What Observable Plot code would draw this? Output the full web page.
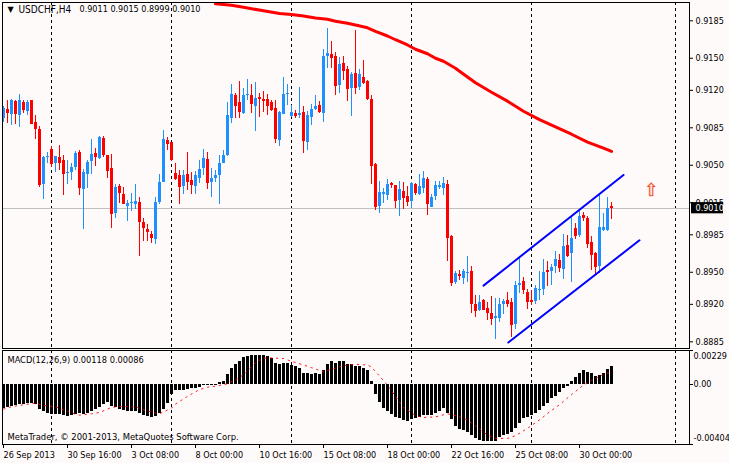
<!DOCTYPE html>
<html><head><meta charset="utf-8">
<style>html,body{margin:0;padding:0;background:#FFFAFA}#c{position:relative;width:729px;height:463px;overflow:hidden}svg{position:absolute;left:0;top:0}</style>
<script src="https://cdn.jsdelivr.net/npm/d3@7"></script>
<script src="https://cdn.jsdelivr.net/npm/@observablehq/plot@0.6"></script>
</head><body><div id="c"></div>
<script>
// candle values, in pips (1/10000)
const opens=[9093.5,9101.9,9097.2,9109.4,9096.3,9109.1,9100,9110.3,9090.4,9083.2,9031.9,9057.1,9064.5,9051.5,9057.1,9054.3,9042.1,9043.1,9047.7,9061.7,9027.2,9041.2,9053.3,9060.8,9056.1,9074.8,9058.9,9046.8,9004.8,9030,9022.5,9011.3,9014.4,9013.2,9015.1,8996.4,8989.8,8985.2,8980.5,9015.1,9033.7,9073,9071.1,9042.1,9040.3,9030,9041.2,9035.6,9030,9037.5,9046.8,9055.2,9033.7,9037.5,9040.3,9051.5,9058.9,9093.5,9115,9108.4,9098.2,9115,9115,9104.7,9113.1,9111.2,9111.2,9108.4,9102.8,9073,9097.2,9115.9,9095.4,9098.2,9096.3,9099.1,9071.1,9094.4,9101.9,9105.6,9098.2,9151.4,9153.3,9151.4,9124.3,9144.9,9139.3,9121.5,9135.5,9122.4,9131.8,9128.1,9111.2,9050.5,9011.3,9022.5,9021.6,9032.8,9030.9,9016.9,9025.3,9020.7,9016,9031.9,9022.5,9028.1,9036.5,9010.4,9020.7,9029.1,9028.1,9031.9,8983.3,8940.3,8947.8,8944.1,8948.8,8950.6,8919.8,8914.2,8923.5,8916.1,8911.4,8906.7,8906.7,8919.8,8923.5,8921.7,8901.1,8937.5,8941.3,8931,8923.5,8922.6,8932.9,8933.8,8951.6,8950.6,8955.3,8960.9,8952.5,8974.9,8967.4,8990.8,8984.2,9002.9,9000.1,8977.7,8967.4,8955.3,8988.9,8988.9,9011];
const highs=[9104.7,9110.3,9111.6,9110.3,9116.5,9110.9,9110.3,9110.3,9096.6,9086,9058.6,9062.1,9067.7,9058,9068.3,9058.9,9054.3,9051.2,9063,9064.2,9045.9,9054.9,9073.9,9065.2,9077.3,9076.7,9058.9,9059.9,9031.9,9031.9,9029.4,9016.9,9023.8,9031.9,9020,9000.1,8994.5,8988,9019.7,9041.2,9082.3,9076.1,9071.1,9051.2,9044.9,9044.9,9061.7,9043.1,9044.3,9054.3,9064.5,9061.7,9046.8,9044.9,9058.9,9063.6,9108.4,9125.3,9117.2,9128.1,9121.5,9129.9,9125.3,9127.1,9116.8,9118.7,9115.9,9110.3,9110.3,9100,9131.8,9125.9,9105.6,9101,9122.4,9104.7,9100,9106.6,9115,9109.4,9157.9,9177.6,9165.4,9155.1,9150.5,9151.4,9142.1,9136.5,9175.7,9139.3,9147.7,9129,9115,9051.2,9034.7,9028.1,9036.5,9033.7,9030.9,9034.7,9033.7,9030,9033.7,9032.8,9041.2,9044,9038.4,9022.5,9034.7,9034.7,9038.4,9036.2,8984.2,8950.6,8951.6,8952.5,8964.6,8955.3,8928.2,8928.2,8924.5,8921.7,8927.3,8925.4,8925.4,8924.5,8930.7,8925.4,8941.3,8963.7,8945,8933.8,8932.9,8937.5,8950.6,8961.8,8960,8957.2,8969.3,8966.5,8985.2,8984.2,9001,8995.4,9007.6,9005.7,9002,8983.3,8968.4,9022.5,9004.8,9019.7,9015];
const lows=[9089.8,9089.1,9087,9088.5,9085.4,9097.9,9096.3,9087.9,9074.2,9029.4,9017.9,9051.2,9048,9043.1,9044.9,9021.6,9031.9,9035.6,9044.9,9021.6,8989.8,9028.1,9041.8,9048.7,9055.2,9057.4,9037.5,8990.8,9000.1,9013.8,9013.2,8997.3,9006.6,9009.1,8964.6,8978.6,8978.6,8977.1,8975.8,9013.2,9033.7,9063.6,9053.7,9035.6,9013.2,9023.1,9026.3,9022.5,9023.1,9033.1,9040.3,9027.8,9019.7,9033.7,9013.2,9051.2,9058,9089.1,9093.5,9094.1,9097.2,9110.3,9098.2,9081.4,9094.4,9099.1,9096.3,9100,9070.2,9067.3,9097.2,9105.6,9094.7,9093.5,9094.1,9060.8,9063.6,9086.7,9101,9098.2,9089.8,9140.2,9140.2,9115,9116.8,9129,9109.4,9095.4,9115.9,9119.6,9125.3,9110.3,9031.9,9007.6,9004.8,9014.1,9016.9,9028.1,9009.4,9002,9008.5,9011.3,9009.4,9021.6,9021.6,9023.5,9002.9,9010.4,9016.9,9027.2,9021.6,8959.6,8936.6,8938.5,8942.2,8938.5,8940.3,8911.7,8908,8913.3,8914.2,8904.9,8900.2,8887.1,8903,8910.5,8917.3,8889,8896.5,8929.8,8929.1,8915.1,8918.9,8919.8,8923.5,8928.2,8936.6,8937.5,8948.8,8949.7,8943.1,8963.7,8940.3,8980.5,8982.4,8997.3,8972.1,8951.6,8947.8,8948.8,8988,8988,8999];
const closes=[9102.8,9098.2,9110.3,9097.2,9110.3,9101,9108.4,9088.5,9083.2,9030.9,9057.1,9058,9050.8,9058,9051.5,9041.5,9043.1,9047.7,9061.1,9028.1,9043.1,9052.4,9059.9,9057.1,9076.1,9058.9,9044,9003.8,9029.1,9023.5,9013.2,9014.1,9015.4,9016,8996.4,8990.8,8987,8981.4,9015.1,9033.7,9073.9,9069.2,9054.3,9036.5,9029.1,9040.3,9033.7,9030.9,9040.3,9045.9,9056.1,9032.8,9037.5,9040.3,9051.5,9058.9,9096.3,9115.9,9104.7,9099.1,9115,9115.9,9106.6,9112.2,9111.2,9109.4,9104.7,9101,9073.9,9099.1,9115.9,9116.8,9099.1,9095.4,9098.2,9072,9096.3,9101.9,9104.7,9099.1,9151.4,9154.2,9149.5,9123.4,9143.9,9137.4,9120.6,9134.6,9121.5,9134.6,9126.2,9111.2,9048.7,9010.4,9024.4,9024.4,9031.9,9030.9,9016,9027.2,9018.8,9015.1,9032.8,9023.5,9030,9037.5,9013.2,9019.7,9030.9,9030.9,9032.8,8981.7,8939.7,8948.8,8945.9,8950.6,8949.7,8920.1,8913.3,8921.7,8914.2,8911.4,8905.8,8908.6,8919.8,8922.6,8919.8,8900.2,8937.5,8939.4,8932.9,8921.7,8921.7,8934.7,8933.8,8949.7,8949.7,8954.4,8961.8,8953.4,8974,8964.6,8981.4,8983.3,9002,9000.1,8975.8,8965.6,8954.4,8991.7,8991.7,9009.5,9010];
// moving average: candle index and value in pips
const maIndex=[53,57,60,62,65,69,72,75,78,81,83,86,88,91,93,96,98,101,103,106,108,110,113,114,118,122,126,130,134,138,142,146,150,152];
const maValue=[9200.9,9199.5,9197.7,9196.3,9194.4,9191.9,9190.9,9189.4,9187.6,9186.5,9184.6,9182.7,9181,9178.5,9175.2,9170.8,9167.3,9162.4,9158.4,9154.2,9150,9147.2,9140.7,9137.9,9127.1,9118.3,9109.9,9100.5,9092.6,9085.8,9079,9071.6,9066,9063];
// channel trend lines: [index, pips] ends
const channelUpper=[[120,8937.5],[155,9040.9]];
const channelLower=[[126.2,8884.3],[159,8979.9]];
const separators=[12,42,72,102,132,168];
const priceTicks=[0.9185,0.9150,0.9120,0.9085,0.9050,0.9015,0.8985,0.8950,0.8920,0.8885];
const lastPrice=0.9010;
const arrowUp=[[162,9026.3]];
const titleText="USDCHF,H4";
const ohlcText="0.9011 0.9015 0.8999 0.9010";
// MACD, in 1e-5
const macdBars=[-159,-154,-150,-143,-136,-132,-125,-125,-132,-170,-182,-193,-200,-204,-204,-209,-216,-211,-204,-193,-204,-197,-182,-170,-152,-136,-118,-147,-154,-170,-177,-182,-182,-182,-193,-209,-216,-222,-216,-193,-170,-125,-68,-41,-41,-39,-34,-29,-27,-18,-9,-5,-9,-9,11,18,68,109,136,154,182,191,197,197,197,197,186,177,143,136,143,143,129,118,109,77,75,68,75,68,95,136,154,143,154,154,132,136,123,118,109,91,20,-68,-118,-159,-182,-200,-222,-231,-245,-250,-238,-231,-222,-211,-211,-211,-193,-182,-159,-193,-238,-284,-302,-313,-322,-345,-363,-374,-381,-381,-381,-381,-358,-345,-336,-322,-295,-261,-231,-222,-209,-193,-177,-147,-125,-95,-79,-57,-29,-11,18,45,73,91,84,73,57,64,73,102,118];
const signalIndex=[0,2,4,8,10,13,15,18,19,22,24,27,29,33,35,38,39,42,43,46,49,51,53,56,59,61,63,65,67,70,72,75,77,80,82,85,88,91,92,94,96,98,100,103,105,108,111,113,116,118,121,123,126,128,131,134,137,139,142,145,147,150,152];
const signalValue=[-165.6,-149.8,-140.7,-124.8,-140.7,-149.8,-170.2,-199.7,-206.5,-197.4,-188.3,-154.3,-147.5,-149.8,-170.2,-192.9,-197.4,-158.8,-131.6,-79.4,-34,-18.2,-11.3,4.5,45.4,90.8,147.5,177,179.3,174.7,156.6,131.6,113.5,86.2,102.1,127.1,136.1,131.6,118,56.7,-4.5,-79.4,-154.3,-208.7,-222.4,-217.8,-197.4,-208.7,-238.2,-279.1,-340.4,-363,-363,-344.9,-295,-238.2,-174.7,-136.1,-68.1,-4.5,27.2,68.1,86];
const macdTicks=[0.00229,0,-0.00404];
const macdTickText=["0.00229","0.00","-0.00404"];
const macdTickShift=[6,0,-6];
const macdText="MACD(12,26,9) 0.00118 0.00086";
const copyright="MetaTrader, \u00A9 2001-2013, MetaQuotes Software Corp.";
const timeIndex=[0,16,32,48,64,80,96,112,128,144];
const timeLabels=["26 Sep 2013","30 Sep 16:00","3 Oct 08:00","8 Oct 00:00","10 Oct 16:00","15 Oct 08:00","18 Oct 00:00","22 Oct 16:00","25 Oct 08:00","30 Oct 00:00"];

const FONT='"DejaVu Sans Condensed","DejaVu Sans",sans-serif', FS=9;
const BLUE="#1E90FF",RED="#FF0000";
const px=1e-4;
const candles=opens.map((o,i)=>({i,open:o*px,high:highs[i]*px,low:lows[i]*px,close:closes[i]*px}));
const up=candles.filter(d=>d.close>=d.open), down=candles.filter(d=>d.close<d.open);
const ma=maIndex.map((i,k)=>({i,v:maValue[k]*px}));
const chan=a=>a.map(([i,v])=>({i,v:v*px}));
const xOpt={type:"linear",domain:[0,171],range:[3,687]};
const clip=true, crisp={shapeRendering:"crispEdges"};
const wicks=(data,stroke)=>Plot.ruleX(data,{x:"i",y1:"low",y2:"high",stroke,clip,...crisp});
const bodies=(data,stroke)=>Plot.ruleX(data,{x:"i",y1:"open",y2:"close",stroke,strokeWidth:3,clip,...crisp});
const fontStyle={fontFamily:FONT,fontSize:FS+"px",background:"transparent",overflow:"visible"};

const main=Plot.plot({
  width:729,height:463,marginLeft:2,marginRight:40,marginTop:2,marginBottom:115,
  style:fontStyle,
  x:{...xOpt,axis:null},
  y:{type:"linear",domain:[0.8885,0.9185],range:[341.3,20.3],axis:null},
  marks:[
    Plot.ruleX(separators,{x:d=>d,stroke:"black",strokeDasharray:"3,3",clip,...crisp}),
    Plot.ruleY([lastPrice],{y:d=>d,stroke:"#C0C0C0",clip,...crisp}),
    wicks(up,BLUE),wicks(down,RED),bodies(up,BLUE),bodies(down,RED),
    Plot.line(ma,{x:"i",y:"v",stroke:RED,strokeWidth:3,clip}),
    Plot.line(chan(channelUpper),{x:"i",y:"v",stroke:"#0000FF",strokeWidth:2,clip}),
    Plot.line(chan(channelLower),{x:"i",y:"v",stroke:"#0000FF",strokeWidth:2,clip}),
    Plot.text(arrowUp,{x:d=>d[0],y:d=>d[1]*px,text:()=>"\u21E7",fill:"#F0483A",stroke:"#FF9A3A",strokeWidth:0.4,fontSize:18,fontFamily:"DejaVu Sans"}),
    Plot.frame({stroke:"black"}),
    Plot.axisY(priceTicks,{anchor:"right",tickSize:3,tickPadding:3,label:null,tickFormat:d=>d.toFixed(4),fill:"black",fontSize:FS,fontFamily:FONT}),
    Plot.rect([lastPrice],{x1:()=>172,x2:()=>180,y1:d=>d-0.00054,y2:d=>d+0.00051,fill:"black"}),
    Plot.text([lastPrice],{x:()=>173,y:d=>d,text:d=>d.toFixed(4),fill:"white",textAnchor:"start",fontSize:FS,fontFamily:FONT}),
    Plot.text(["\u25BC"],{frameAnchor:"top-left",dx:5,dy:4,fontSize:8,fill:"black",fontFamily:"DejaVu Sans",textAnchor:"start"}),
    Plot.text([titleText],{frameAnchor:"top-left",dx:16,dy:3,fontSize:10,fill:"black",fontFamily:FONT,textAnchor:"start"}),
    Plot.text([ohlcText],{frameAnchor:"top-left",dx:77,dy:3,fontSize:FS,fill:"black",fontFamily:FONT,textAnchor:"start"})
  ]
});
const timeMap=new Map(timeIndex.map((t,k)=>[t,timeLabels[k]]));
const bars=macdBars.map((v,i)=>({i,v:v*1e-5}));
const sig=signalIndex.map((i,k)=>({i,v:signalValue[k]*1e-5}));
const macd=Plot.plot({
  width:729,height:463,marginLeft:2,marginRight:40,marginTop:350,marginBottom:19,
  style:fontStyle,
  x:{...xOpt,axis:null},
  y:{type:"linear",domain:[-0.00404,0.00229],axis:null},
  marks:[
    Plot.ruleX(separators,{x:d=>d,stroke:"black",strokeDasharray:"3,3",clip,...crisp}),
    Plot.ruleX(bars,{x:"i",y1:()=>0,y2:"v",stroke:"black",strokeWidth:3,clip,...crisp}),
    Plot.line(sig,{x:"i",y:"v",stroke:RED,strokeWidth:0.9,strokeDasharray:"1.5,4.5",clip}),
    Plot.frame({stroke:"black"}),
    Plot.axisY(macdTicks,{anchor:"right",tickSize:3,label:null,tickFormat:()=>"",fontSize:FS}),
    Plot.text([macdTicks[1]],{y:d=>d,text:()=>macdTickText[1],frameAnchor:"right",dx:4,dy:macdTickShift[1],textAnchor:"start",fill:"black",fontSize:FS,fontFamily:FONT}),
    Plot.text([macdTicks[0]],{y:d=>d,text:()=>macdTickText[0],frameAnchor:"right",dx:4,dy:macdTickShift[0],textAnchor:"start",fill:"black",fontSize:FS,fontFamily:FONT}),
    Plot.text([macdTicks[2]],{y:d=>d,text:()=>macdTickText[2],frameAnchor:"right",dx:4,dy:macdTickShift[2],textAnchor:"start",fill:"black",fontSize:FS,fontFamily:FONT}),
    Plot.text([macdText],{frameAnchor:"top-left",dx:5,dy:6,textAnchor:"start",fill:"black",fontSize:9.2,fontFamily:FONT}),
    Plot.text([copyright],{frameAnchor:"top-left",dx:5,dy:83,textAnchor:"start",fill:"black",fontSize:9.4,fontFamily:FONT}),
    Plot.axisX(timeIndex,{anchor:"bottom",tickSize:4,tickPadding:3,label:null,textAnchor:"start",tickFormat:d=>timeMap.get(d),fill:"black",fontSize:FS,fontFamily:FONT})
  ]
});
document.getElementById("c").append(main,macd);
</script></body></html>
